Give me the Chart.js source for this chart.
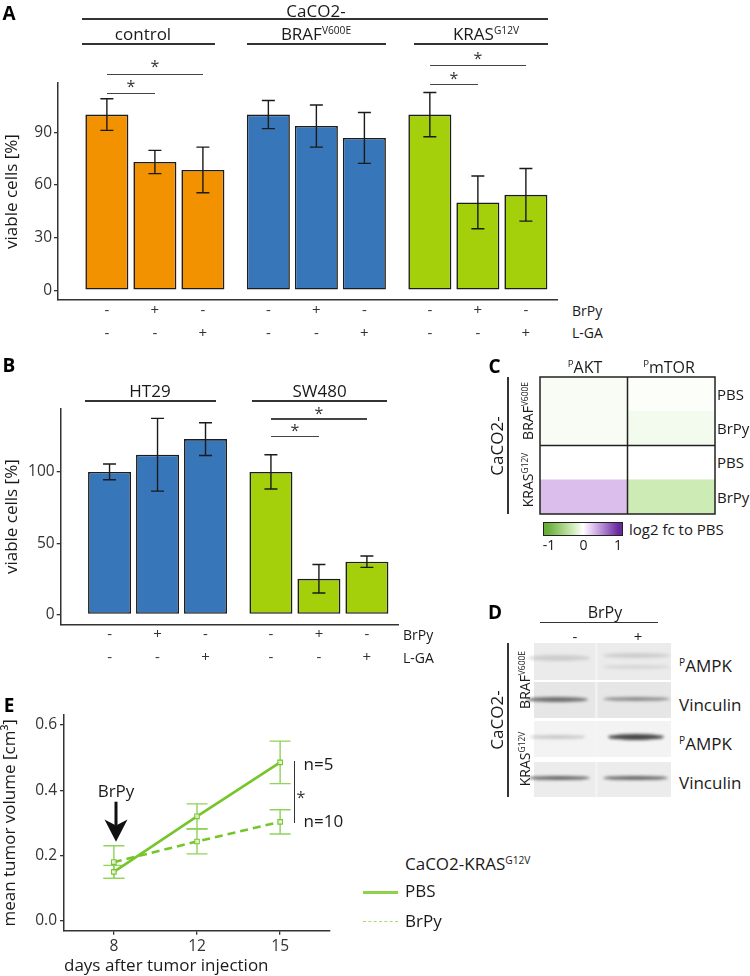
<!DOCTYPE html>
<html><head><meta charset="utf-8">
<script src="https://cdn.jsdelivr.net/npm/chart.js@4.4.1/dist/chart.umd.min.js"></script>
<style>
html,body{margin:0;padding:0;background:#fff;}
#fig{position:relative;width:750px;height:976px;overflow:hidden;background:#fff;font-family:'Open Sans',sans-serif;color:#1a1a1a;}
#fig canvas{position:absolute;}
.t{position:absolute;white-space:nowrap;line-height:1;}
.s{font-size:0.6em;position:relative;top:-0.62em;}
.ln{position:absolute;background:#333;}
.band{position:absolute;border-radius:50%;filter:blur(1.6px);}
.row{position:absolute;overflow:hidden;}
</style></head><body><div id="fig">
<canvas id="cA" width="560" height="350" style="left:0;top:0"></canvas>
<canvas id="cB" width="420" height="330" style="left:0;top:350px"></canvas>
<canvas id="cC" width="177" height="139" style="left:539px;top:376px"></canvas>
<canvas id="cE" width="350" height="286" style="left:0;top:690px"></canvas>
</div>
<script>
// ---------------- data ----------------
const groupsA = ['control', 'BRAF V600E', 'KRAS G12V'];
const rowBrPy = ['-', '+', '-'];
const rowLGA  = ['-', '-', '+'];
const A_none = [100, 100, 100],  A_none_sd = [9, 8, 12.6];
const A_brpy = [73, 93.5, 50],   A_brpy_sd = [6.6, 12, 15];
const A_lga  = [68.5, 86.7, 54.3], A_lga_sd = [13, 14.5, 15];
const ticksA = [0, 30, 60, 90];
const colorsA = ['#F39200', '#3777B9', '#A3CF0B'];

const groupsB = ['HT29', 'SW480'];
const B_none = [100, 100], B_none_sd = [5.5, 12];
const B_brpy = [112, 25],  B_brpy_sd = [25.5, 10];
const B_lga  = [123, 37],  B_lga_sd = [11.5, 4];
const ticksB = [0, 50, 100];
const colorsB = ['#3777B9', '#A3CF0B'];

const hmRows = ['BRAF PBS', 'BRAF BrPy', 'KRAS PBS', 'KRAS BrPy'];
const hmAKT  = [-0.04, -0.04, 0, 0.3];
const hmMTOR = [-0.02, -0.07, 0, -0.3];

const daysE = ['8', '12', '15'];
const pbsMean  = [0.15, 0.32, 0.485], pbsSd  = [0.02, 0.038, 0.065];
const brpyMean = [0.18, 0.243, 0.303], brpySd = [0.05, 0.038, 0.037];
const ticksE = [0, 0.2, 0.4, 0.6];

// ---------------- helpers ----------------
const fig = document.getElementById('fig');
function txt(html, x, y, o = {}) {
  const d = document.createElement('div');
  d.className = 't'; d.innerHTML = html;
  d.style.fontSize = (o.size || 17) + 'px';
  d.style.fontWeight = o.weight || 400;
  d.style.color = o.color || '#1a1a1a';
  d.style.left = x + 'px'; d.style.top = y + 'px';
  const tx = o.anchor === 'l' ? '0' : (o.anchor === 'r' ? '-100%' : '-50%');
  d.style.transform = `translate(${tx},-50%)` + (o.rot ? ` rotate(${o.rot}deg)` : '');
  fig.appendChild(d); return d;
}
function hline(x1, x2, y, w = 1.4, c = '#333') {
  const d = document.createElement('div'); d.className = 'ln';
  Object.assign(d.style, {left: x1 + 'px', top: (y - w / 2) + 'px', width: (x2 - x1) + 'px', height: w + 'px', background: c});
  fig.appendChild(d);
}
function vline(x, y1, y2, w = 1.4, c = '#333') {
  const d = document.createElement('div'); d.className = 'ln';
  Object.assign(d.style, {left: (x - w / 2) + 'px', top: y1 + 'px', width: w + 'px', height: (y2 - y1) + 'px', background: c});
  fig.appendChild(d);
}
function star(x, y) { txt('*', x, y + 3, {size: 16, color: '#333'}); }

Chart.defaults.font.family = "'Open Sans', sans-serif";
Chart.defaults.color = '#333';
Chart.defaults.animation = false;

function drawErr(chart, o) {
  const ctx = chart.ctx, ys = chart.scales.y;
  chart.data.datasets.forEach((ds, di) => {
    if (!ds.sd) return;
    chart.getDatasetMeta(di).data.forEach((el, i) => {
      const v = ds.data[i].y, e = ds.sd[i];
      const x = el.x, yt = ys.getPixelForValue(v + e), yb = ys.getPixelForValue(v - e);
      ctx.save(); ctx.strokeStyle = ds.errColor || o.color; ctx.lineWidth = o.width;
      ctx.beginPath();
      ctx.moveTo(x, yt); ctx.lineTo(x, yb);
      ctx.moveTo(x - o.cap, yt); ctx.lineTo(x + o.cap, yt);
      ctx.moveTo(x - o.cap, yb); ctx.lineTo(x + o.cap, yb);
      ctx.stroke(); ctx.restore();
    });
  });
}
const errorBars = {
  id: 'errorBars',
  beforeDatasetsDraw(chart, a, o) { if (o.below) drawErr(chart, o); },
  afterDatasetsDraw(chart, a, o) { if (!o.below) drawErr(chart, o); }
};
const rowsPlugin = {
  id: 'rows',
  afterDraw(chart, a, o) {
    const ctx = chart.ctx, b = chart.chartArea.bottom;
    ctx.save(); ctx.fillStyle = '#333'; ctx.font = "15px 'Open Sans'";
    ctx.textAlign = 'center'; ctx.textBaseline = 'middle';
    chart.data.datasets.forEach((ds, di) => {
      chart.getDatasetMeta(di).data.forEach(el => {
        ctx.fillText(rowBrPy[di], el.x, b + o.dy1);
        ctx.fillText(rowLGA[di], el.x, b + o.dy2);
      });
    });
    ctx.restore();
  }
};

function barChart(id, groups, means, sds, colors, ticks, ymin, ymax, xmax, pad, yW, xH) {
  return new Chart(document.getElementById(id), {
    type: 'bar',
    data: {
      datasets: means.map((m, di) => ({
        label: ['none', 'BrPy', 'L-GA'][di],
        data: groups.map((g, i) => ({x: i, y: m[i]})),
        sd: sds[di],
        backgroundColor: colors,
        borderColor: '#1c1c1c',
        borderWidth: 1.6,
        borderSkipped: false
      }))
    },
    options: {
      responsive: false,
      datasets: {bar: {barPercentage: 0.896, categoryPercentage: 0.892}},
      layout: {padding: pad},
      scales: {
        x: {type: 'linear', min: -0.6, max: xmax, offset: false,
            afterBuildTicks: s => { s.ticks = groups.map((g, i) => ({value: i})); },
            ticks: {display: false}, grid: {display: false, offset: false},
            border: {display: true, color: '#333', width: 1.5},
            afterFit: s => { s.height = xH; }},
        y: {min: ymin, max: ymax,
            afterBuildTicks: s => { s.ticks = ticks.map(v => ({value: v})); },
            ticks: {font: {size: 15.5}, color: '#333', padding: 2},
            grid: {drawOnChartArea: false, drawTicks: true, tickLength: 4, color: '#333', lineWidth: 1.3},
            border: {display: true, color: '#333', width: 1.5},
            title: {display: true, text: 'viable cells [%]', font: {size: 17}, color: '#1a1a1a', padding: {top: 2, bottom: 0}},
            afterFit: s => { s.width = yW; }}
      },
      plugins: {legend: {display: false}, tooltip: {enabled: false},
                errorBars: {color: '#1a1a1a', width: 1.4, cap: 6.5},
                rows: {dy1: 10.7, dy2: 33.3}}
    },
    plugins: [errorBars, rowsPlugin]
  });
}

// ---------------- Panel A ----------------
const chA = barChart('cA', groupsA, [A_none, A_brpy, A_lga], [A_none_sd, A_brpy_sd, A_lga_sd],
  colorsA, ticksA, -5.6, 118, 2.49, {top: 83, right: 3, left: 0, bottom: 0}, 58, 50);
txt('A', 9, 12.5, {size: 19, weight: 700, color: '#000'});
txt('CaCO2-', 316, 10, {size: 17});
hline(82, 547.5, 19);
txt('control', 143, 33, {size: 17});
txt('BRAF<span class="s">V600E</span>', 316, 33, {size: 17});
txt('KRAS<span class="s">G12V</span>', 486, 33, {size: 17});
hline(82, 214.6, 44); hline(247, 386, 44); hline(414, 547.5, 44);
txt('BrPy', 572, 310.7, {size: 14, anchor: 'l'});
txt('L-GA', 572, 333.3, {size: 14, anchor: 'l'});
function bx(ch, d, g) { return ch.getDatasetMeta(d).data[g].x; }
function bracket(ch, g, d2, y, ys) {
  const x1 = bx(ch, 0, g), x2 = bx(ch, d2, g);
  hline(x1, x2, y, 1.4, '#444'); star((x1 + x2) / 2, ys);
}
bracket(chA, 0, 1, 93.3, 83.3); bracket(chA, 0, 2, 74.3, 63.3);
bracket(chA, 2, 1, 84.7, 75);   bracket(chA, 2, 2, 65.7, 54.7);

// ---------------- Panel B ----------------
const chB = barChart('cB', groupsB, [B_none, B_brpy, B_lga], [B_none_sd, B_brpy_sd, B_lga_sd],
  colorsB, ticksB, -6.9, 144.1, 1.49, {top: 59, right: 22, left: 0, bottom: 0}, 60.7, 55.7);
txt('B', 9, 365, {size: 19, weight: 700, color: '#000'});
txt('HT29', 150, 390, {size: 17});
txt('SW480', 319.6, 390, {size: 17});
hline(85, 216, 401); hline(252, 387, 401);
txt('BrPy', 403, 624.3 + 10.7, {size: 14, anchor: 'l'});
txt('L-GA', 403, 624.3 + 33.3, {size: 14, anchor: 'l'});
{
  const x1 = bx(chB, 0, 1), x2 = bx(chB, 1, 1), x3 = bx(chB, 2, 1);
  hline(x1, x3, 419, 1.4, '#444'); star((x1 + x3) / 2, 410);
  hline(x1, x2, 436.7, 1.4, '#444'); star((x1 + x2) / 2, 427);
}

// ---------------- Panel C (heatmap) ----------------
const stops = [[-1, [104, 172, 56]], [-0.3, [205, 235, 180]], [0, [255, 255, 255]], [0.3, [219, 190, 236]], [1, [104, 38, 158]]];
function fcColor(v) {
  v = Math.max(-1, Math.min(1, v));
  for (let i = 0; i < stops.length - 1; i++) {
    const [a, ca] = stops[i], [b, cb] = stops[i + 1];
    if (v >= a && v <= b) {
      const t = (v - a) / (b - a);
      const c = ca.map((x, k) => Math.round(x + (cb[k] - x) * t));
      return `rgb(${c[0]},${c[1]},${c[2]})`;
    }
  }
  return '#fff';
}
const hmBorders = {
  id: 'hmBorders',
  afterDatasetsDraw(chart) {
    const {ctx, chartArea: ca, scales: {x, y}} = chart;
    ctx.save(); ctx.strokeStyle = '#222'; ctx.lineWidth = 1.5;
    ctx.strokeRect(ca.left, ca.top, ca.right - ca.left, ca.bottom - ca.top);
    ctx.beginPath();
    const xm = x.getPixelForValue(1); ctx.moveTo(xm, ca.top); ctx.lineTo(xm, ca.bottom);
    const ym = y.getPixelForValue(1.5); ctx.moveTo(ca.left, ym); ctx.lineTo(ca.right, ym);
    ctx.stroke(); ctx.restore();
  }
};
new Chart(document.getElementById('cC'), {
  type: 'bar',
  data: {
    labels: hmRows,
    datasets: [
      {label: 'pAKT', data: hmAKT.map(() => [0, 1]), backgroundColor: hmAKT.map(fcColor)},
      {label: 'pmTOR', data: hmMTOR.map(() => [1, 2]), backgroundColor: hmMTOR.map(fcColor)}
    ]
  },
  options: {
    responsive: false, indexAxis: 'y',
    datasets: {bar: {barPercentage: 1, categoryPercentage: 1, grouped: false, borderWidth: 0}},
    layout: {padding: 1},
    scales: {x: {type: 'linear', min: 0, max: 2, display: false}, y: {display: false}},
    plugins: {legend: {display: false}, tooltip: {enabled: false}}
  },
  plugins: [hmBorders]
});
txt('C', 494.5, 365.5, {size: 19, weight: 700, color: '#000'});
txt('<span class="s">P</span>AKT', 585, 367, {size: 16});
txt('<span class="s">P</span>mTOR', 669, 367, {size: 16});
[['PBS', 394], ['BrPy', 428], ['PBS', 462], ['BrPy', 497]].forEach(([s, y]) => txt(s, 717, y, {size: 15, anchor: 'l'}));
txt('CaCO2-', 496, 446, {size: 17, rot: -90});
vline(508, 377, 514);
txt('BRAF<span class="s">V600E</span>', 528, 411, {size: 14, rot: -90});
txt('KRAS<span class="s">G12V</span>', 528, 480, {size: 14, rot: -90});
{
  const cb = document.createElement('div');
  const g = [];
  for (let i = 0; i <= 20; i++) { const v = -1.09 + i * (2.18 / 20); g.push(fcColor(v) + ' ' + (i * 5) + '%'); }
  Object.assign(cb.style, {position: 'absolute', left: '543px', top: '522px', width: '80px', height: '14px',
    boxSizing: 'border-box', border: '1.5px solid #222', background: `linear-gradient(to right, ${g.join(',')})`});
  fig.appendChild(cb);
  txt('-1', 549, 545, {size: 14}); txt('0', 583.5, 545, {size: 14}); txt('1', 618, 545, {size: 14});
  txt('log2 fc to PBS', 629, 529, {size: 15, anchor: 'l'});
}

// ---------------- Panel D (western blot) ----------------
txt('D', 495, 612, {size: 19, weight: 700, color: '#000'});
txt('BrPy', 605, 611.7, {size: 16});
hline(540, 658, 622.3);
txt('-', 575, 636, {size: 15}); txt('+', 638, 636, {size: 15});
const blotRows = [[643, 680, '#ebebeb'], [681.7, 718, '#e6e6e6'], [720.7, 757, '#f3f3f3'], [761.7, 797, '#ececec']];
blotRows.forEach(([y1, y2, c]) => {
  const r = document.createElement('div'); r.className = 'row';
  Object.assign(r.style, {left: '534px', top: y1 + 'px', width: '137px', height: (y2 - y1) + 'px',
    background: `linear-gradient(to right, ${c} 0%, ${c} 44%, #f4f4f4 45.5%, ${c} 47%, ${c} 100%)`});
  fig.appendChild(r);
});
function band(x1, x2, yc, h, color) {
  const d = document.createElement('div'); d.className = 'band';
  Object.assign(d.style, {left: x1 + 'px', top: (yc - h / 2) + 'px', width: (x2 - x1) + 'px', height: h + 'px', background: color});
  fig.appendChild(d);
}
band(528, 590, 658, 6, 'rgba(150,150,150,0.35)');
band(603, 670, 655, 5, 'rgba(150,150,150,0.35)'); band(603, 670, 667, 4, 'rgba(150,150,150,0.25)');
band(526, 588, 699, 5, 'rgba(70,70,70,0.75)'); band(603, 670, 699, 4, 'rgba(80,80,80,0.6)');
band(530, 585, 737, 3.5, 'rgba(120,120,120,0.35)'); band(608, 664, 737, 6, 'rgba(40,40,40,0.85)');
band(528, 590, 778, 4.5, 'rgba(60,60,60,0.75)'); band(603, 668, 778, 4.5, 'rgba(60,60,60,0.75)');
[['<span class="s">P</span>AMPK', 665], ['Vinculin', 704], ['<span class="s">P</span>AMPK', 743.3], ['Vinculin', 781.7]].forEach(([s, y]) => txt(s, 679, y, {size: 17, anchor: 'l'}));
txt('CaCO2-', 496, 720, {size: 17, rot: -90});
vline(508, 643, 797);
txt('BRAF<span class="s">V600E</span>', 525, 680, {size: 14, rot: -90});
txt('KRAS<span class="s">G12V</span>', 525, 759, {size: 14, rot: -90});

// ---------------- Panel E ----------------
const lineGreen = '#76C52B', errGreen = '#8FD35B';
new Chart(document.getElementById('cE'), {
  type: 'line',
  data: {
    datasets: [
      {label: 'PBS', data: daysE.map((d, i) => ({x: i, y: pbsMean[i]})), sd: pbsSd,
       borderColor: lineGreen, borderWidth: 2.6, pointStyle: 'rect', pointRadius: 3.2,
       pointBorderWidth: 1.1, pointBorderColor: lineGreen, pointBackgroundColor: 'rgba(255,255,255,0.7)', errColor: errGreen},
      {label: 'BrPy', data: daysE.map((d, i) => ({x: i, y: brpyMean[i]})), sd: brpySd,
       borderColor: lineGreen, borderWidth: 2.6, borderDash: [8, 5], pointStyle: 'rect', pointRadius: 3.2,
       pointBorderWidth: 1.1, pointBorderColor: lineGreen, pointBackgroundColor: 'rgba(255,255,255,0.7)', errColor: errGreen}
    ]
  },
  options: {
    responsive: false,
    layout: {padding: {top: 25, right: 20, left: 0, bottom: 0}},
    scales: {
      x: {type: 'linear', min: -0.6, max: 2.6,
          afterBuildTicks: s => { s.ticks = daysE.map((d, i) => ({value: i})); },
          ticks: {font: {size: 15.5}, color: '#333', padding: 3, callback: v => daysE[v]},
          grid: {drawOnChartArea: false, drawTicks: true, tickLength: 4, color: '#333', lineWidth: 1.3},
          border: {display: true, color: '#333', width: 1.5},
          title: {display: true, text: 'days after tumor injection', align: 'start', font: {size: 17}, color: '#1a1a1a', padding: {top: 0, bottom: 0}},
          afterFit: s => { s.height = 45.3; }},
      y: {min: -0.03, max: 0.63,
          afterBuildTicks: s => { s.ticks = ticksE.map(v => ({value: v})); },
          ticks: {font: {size: 15.5}, color: '#333', padding: 3, callback: v => v.toFixed(1)},
          grid: {drawOnChartArea: false, drawTicks: true, tickLength: 4, color: '#333', lineWidth: 1.3},
          border: {display: true, color: '#333', width: 1.5},
          title: {display: true, text: 'mean tumor volume [cm³]', font: {size: 17}, color: '#1a1a1a', padding: {top: 0, bottom: 0}},
          afterFit: s => { s.width = 64; }}
    },
    plugins: {legend: {display: false}, tooltip: {enabled: false},
              errorBars: {below: true, color: errGreen, width: 1.4, cap: 10.5}}
  },
  plugins: [errorBars]
});
txt('E', 9, 705, {size: 19, weight: 700, color: '#000'});
txt('BrPy', 116, 790, {size: 17});
{
  const ns = 'http://www.w3.org/2000/svg';
  const svg = document.createElementNS(ns, 'svg');
  svg.setAttribute('width', '32'); svg.setAttribute('height', '48');
  Object.assign(svg.style, {position: 'absolute', left: '100px', top: '798px'});
  svg.innerHTML = '<rect x="14.5" y="3.7" width="3" height="24" fill="#111"/>' +
                  '<polygon points="16,43.7 4.5,21.5 16,27.5 27.5,21.5" fill="#111"/>';
  fig.appendChild(svg);
}
vline(294.6, 760.7, 822.7, 1.4, '#333');
star(301, 794);
txt('n=5', 303.6, 763, {size: 17, anchor: 'l'});
txt('n=10', 303.6, 820, {size: 17, anchor: 'l'});
txt('CaCO2-KRAS<span class="s">G12V</span>', 405, 863, {size: 17, anchor: 'l'});
txt('PBS', 405, 890, {size: 17, anchor: 'l'});
txt('BrPy', 405, 920, {size: 17, anchor: 'l'});
hline(362.5, 397.5, 892, 3, '#8FD14F');
{
  const d = document.createElement('div');
  Object.assign(d.style, {position: 'absolute', left: '362.5px', top: '920.5px', width: '35px', height: '0',
    borderTop: '1.5px dashed #A9DC70'});
  fig.appendChild(d);
}
</script></body></html>
